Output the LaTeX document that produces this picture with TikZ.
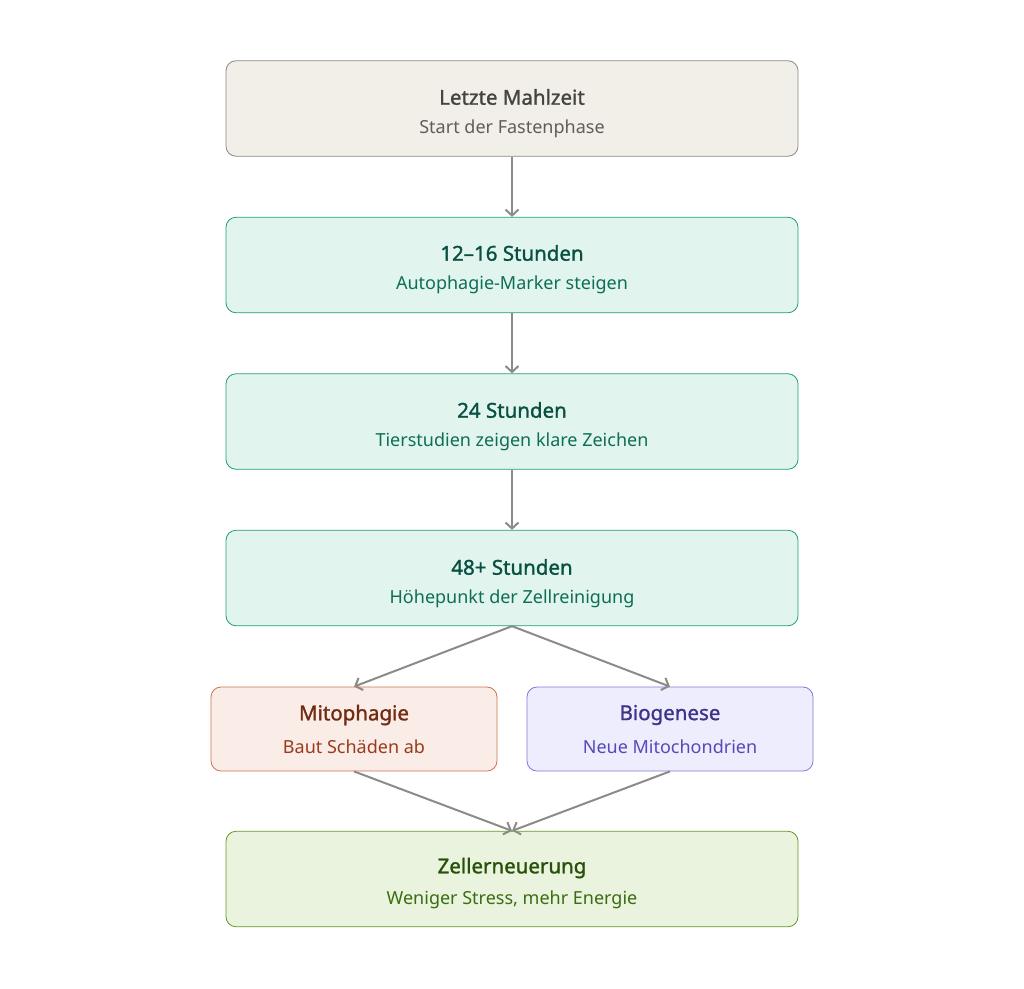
\documentclass[tikz,border=0pt]{standalone}
\usepackage{fontspec}
\setmainfont{Noto Sans}
\newfontfamily\ttlfont[FakeBold=1.3]{Noto Sans}
\usetikzlibrary{arrows.meta}
\definecolor{grayfill}{HTML}{F1EFE8}
\definecolor{graydraw}{HTML}{8A8983}
\definecolor{graytitle}{HTML}{444441}
\definecolor{graysub}{HTML}{5F5E5A}
\definecolor{tealfill}{HTML}{E1F5EE}
\definecolor{tealdraw}{HTML}{1D9E75}
\definecolor{tealtitle}{HTML}{085041}
\definecolor{tealsub}{HTML}{0F6E56}
\definecolor{corfill}{HTML}{FAECE7}
\definecolor{cordraw}{HTML}{D0714F}
\definecolor{cortitle}{HTML}{712B13}
\definecolor{corsub}{HTML}{993C1D}
\definecolor{purfill}{HTML}{EEEDFE}
\definecolor{purdraw}{HTML}{7F77DD}
\definecolor{purtitle}{HTML}{3C3489}
\definecolor{pursub}{HTML}{534AB7}
\definecolor{grnfill}{HTML}{EAF3DE}
\definecolor{grndraw}{HTML}{639922}
\definecolor{grntitle}{HTML}{27500A}
\definecolor{grnsub}{HTML}{3B6D11}
\definecolor{arrowc}{HTML}{8C8B86}
\tikzset{
  box/.style={rectangle, rounded corners=10pt, line width=0.8pt, inner sep=0pt},
  wide/.style={box, minimum width=572pt, minimum height=95.5pt},
  half/.style={box, minimum width=286pt, minimum height=84pt},
  ttl/.style={font=\ttlfont\fontsize{20.5}{24}\selectfont},
  sub/.style={font=\fontsize{18}{22}\selectfont},
  conn/.style={draw=arrowc, line width=2pt, -{Straight Barb[length=6pt,width=13pt,line width=2pt]}}
}
\begin{document}
\begin{tikzpicture}[x=1pt,y=-1pt]
\useasboundingbox (0,0) rectangle (1024,988);
% boxes
\node[wide, fill=grayfill, draw=graydraw] (b1) at (512,108.5) {};
\node[ttl, text=graytitle] (b1t) at (512,97) {Letzte Mahlzeit};
\node[sub, text=graysub] (b1s) at (512,129) {Start der Fastenphase};

\node[wide, fill=tealfill, draw=tealdraw] (b2) at (512,265) {};
\node[ttl, text=tealtitle] (b2t) at (512,253) {12–16 Stunden};
\node[sub, text=tealsub] (b2s) at (512,285) {Autophagie-Marker steigen};

\node[wide, fill=tealfill, draw=tealdraw] (b3) at (512,421.5) {};
\node[ttl, text=tealtitle] (b3t) at (512,410) {24 Stunden};
\node[sub, text=tealsub] (b3s) at (512,442) {Tierstudien zeigen klare Zeichen};

\node[wide, fill=tealfill, draw=tealdraw] (b4) at (512,578) {};
\node[ttl, text=tealtitle] (b4t) at (512,567) {48+ Stunden};
\node[sub, text=tealsub] (b4s) at (512,599) {Höhepunkt der Zellreinigung};

\node[half, fill=corfill, draw=cordraw] (m1) at (354,729) {};
\node[ttl, text=cortitle] (m1t) at (354,715) {Mitophagie};
\node[sub, text=corsub] (m1s) at (354,747) {Baut Schäden ab};

\node[half, fill=purfill, draw=purdraw] (m2) at (670,729) {};
\node[ttl, text=purtitle] (m2t) at (670,715) {Biogenese};
\node[sub, text=pursub] (m2s) at (670,747) {Neue Mitochondrien};

\node[wide, fill=grnfill, draw=grndraw] (b5) at (512,879) {};
\node[ttl, text=grntitle] (b5t) at (512,868) {Zellerneuerung};
\node[sub, text=grnsub] (b5s) at (512,900) {Weniger Stress, mehr Energie};

\draw[conn] (b1.south) -- (b2.north);
\draw[conn] (b2.south) -- (b3.north);
\draw[conn] (b3.south) -- (b4.north);
\draw[conn] (b4.south) -- (m1.north);
\draw[conn] (b4.south) -- (m2.north);
\draw[conn] (m1.south) -- (b5.north);
\draw[conn] (m2.south) -- (b5.north);
\end{tikzpicture}
\end{document}
